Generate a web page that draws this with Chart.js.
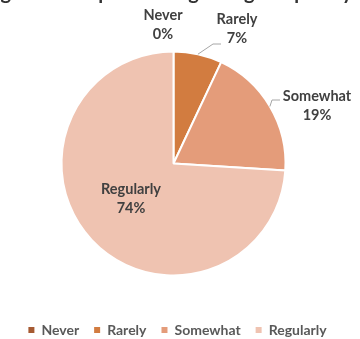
<!DOCTYPE html>
<html>
<head>
<meta charset="utf-8">
<script src="https://cdn.jsdelivr.net/npm/chart.js@4.4.0/dist/chart.umd.min.js"></script>
<style>
    html, body { margin: 0; padding: 0; background: #fff; }
    #wrap { width: 360px; height: 339px; overflow: hidden; }
</style>
</head>
<body>
<div id="wrap"><canvas id="chartPie" width="360" height="339"></canvas></div>
<script>
const categories = ['Never', 'Rarely', 'Somewhat', 'Regularly'];
const percents = [0, 7, 19, 74];
const sliceColors = ['#A65A32', '#D27C40', '#E49C7A', '#EFC3B1'];
const figureTitle = 'Figure 2: Responses Regarding Frequency of Use';

// where each two-line label sits, plus optional leader-line bends
const labelLayout = [
    { x: 163, y: 25, bends: null },
    { x: 237, y: 29, bends: [[213, 44], [221, 44]] },
    { x: 317, y: 106, bends: [[272, 100], [280, 100]] },
    { x: 131, y: 199, bends: null }
];

const LABEL_FONT = 'bold 14.5px Lato';

// title sits mostly above the canvas edge
const titlePlugin = {
    id: 'figureTitle',
    afterDraw(chart) {
        const ctx = chart.ctx;
        ctx.save();
        ctx.font = 'bold 20px Lato';
        ctx.fillStyle = '#333333';
        ctx.textAlign = 'left';
        ctx.textBaseline = 'alphabetic';
        ctx.fillText(figureTitle, -16, -1.5);
        ctx.restore();
    }
};

// nudge the legend row a little to the right of the pie centre
const legendShift = {
    id: 'legendShift',
    afterLayout(chart) {
        chart.legend.left += 4;
        chart.legend.right += 4;
    }
};

const sliceLabels = {
    id: 'sliceLabels',
    afterDatasetsDraw(chart) {
        const ctx = chart.ctx;
        const arcs = chart.getDatasetMeta(0).data;
        ctx.save();
        arcs.forEach((arc, i) => {
            const pos = labelLayout[i];
            if (pos.bends) {
                const mid = (arc.startAngle + arc.endAngle) / 2;
                ctx.beginPath();
                ctx.moveTo(arc.x + Math.cos(mid) * arc.outerRadius, arc.y + Math.sin(mid) * arc.outerRadius);
                pos.bends.forEach(p => ctx.lineTo(p[0], p[1]));
                ctx.strokeStyle = '#A6A6A6';
                ctx.lineWidth = 1;
                ctx.stroke();
            }
            ctx.font = LABEL_FONT;
            ctx.fillStyle = '#404040';
            ctx.textAlign = 'center';
            ctx.textBaseline = 'middle';
            ctx.fillText(categories[i], pos.x, pos.y - 9.5);
            ctx.fillText(percents[i] + '%', pos.x, pos.y + 9.5);
        });
        ctx.restore();
    }
};

new Chart(document.getElementById('chartPie'), {
    type: 'pie',
    data: {
        labels: categories,
        datasets: [{
            data: percents,
            backgroundColor: sliceColors,
            borderColor: '#ffffff',
            borderWidth: 2,
            radius: 112
        }]
    },
    options: {
        responsive: false,
        animation: false,
        devicePixelRatio: 1,
        layout: { padding: { top: 19, bottom: -8, left: 0, right: 13 } },
        plugins: {
            tooltip: { enabled: false },
            legend: {
                position: 'bottom',
                labels: {
                    usePointStyle: true,
                    pointStyle: 'rect',
                    boxWidth: 6,
                    boxHeight: 6,
                    padding: 15,
                    color: '#595959',
                    font: { family: 'Lato', size: 14, weight: 'bold' },
                    generateLabels(chart) {
                        return categories.map((name, i) => ({
                            text: name,
                            fillStyle: sliceColors[i],
                            strokeStyle: sliceColors[i],
                            lineWidth: 0,
                            pointStyle: 'rect',
                            fontColor: '#595959',
                            index: i,
                            hidden: false
                        }));
                    }
                }
            }
        }
    },
    plugins: [sliceLabels, titlePlugin, legendShift]
});
</script>
</body>
</html>
